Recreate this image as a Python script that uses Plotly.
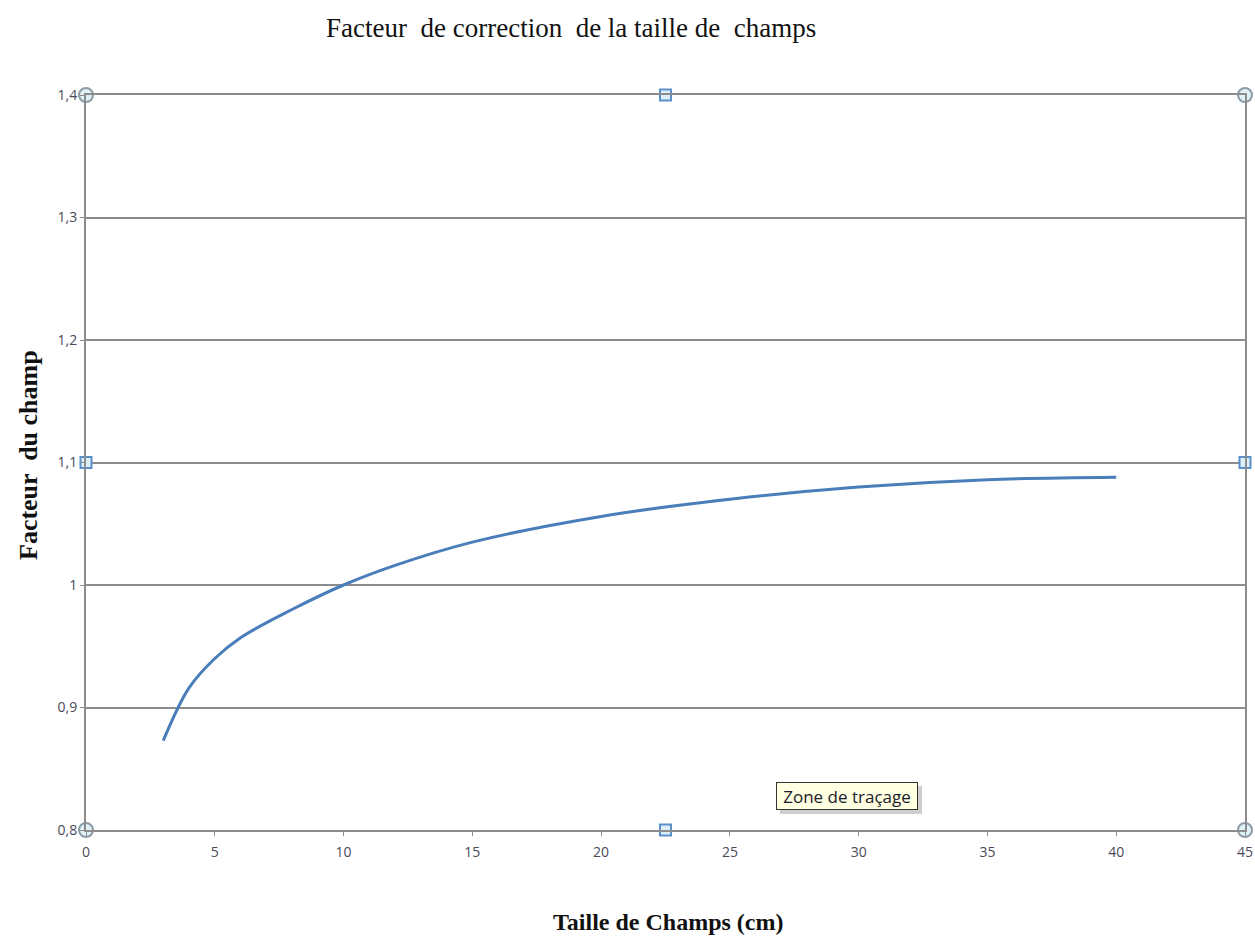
import plotly.graph_objects as go

# Field size (cm) and field correction factor
taille_cm = [3, 4, 5, 6, 8, 10, 12, 15, 20, 25, 30, 35, 40]
facteur = [0.873, 0.916, 0.940, 0.957, 0.980, 1.000, 1.016, 1.035, 1.056, 1.070, 1.080, 1.086, 1.088]

x_ticks = [0, 5, 10, 15, 20, 25, 30, 35, 40, 45]
y_ticks = [0.8, 0.9, 1.0, 1.1, 1.2, 1.3, 1.4]
y_tick_text = ["0,8", "0,9", "1", "1,1", "1,2", "1,3", "1,4"]

W, H = 1255, 937
L, R, T, B = 86, 10, 95, 107
PW, PH = W - L - R, H - T - B


def px_x(p):
    return (p - L) / PW


def px_y(p):
    return (H - B - p) / PH


fig = go.Figure()

fig.add_trace(go.Scatter(
    x=taille_cm, y=facteur, mode="lines",
    line=dict(color="#4a7ebb", width=3, shape="spline", smoothing=1.0),
    hoverinfo="skip", showlegend=False,
))

# selection handles of the plot area
fig.add_trace(go.Scatter(
    x=[0, 45, 0, 45], y=[0.8, 0.8, 1.4, 1.4], mode="markers",
    marker=dict(symbol="circle", size=14, color="#dff3f7",
                line=dict(color="#8e9ba6", width=2)),
    cliponaxis=False, hoverinfo="skip", showlegend=False,
))
fig.add_trace(go.Scatter(
    x=[22.5, 22.5, 0, 45], y=[0.8, 1.4, 1.1, 1.1], mode="markers",
    marker=dict(symbol="square", size=11, color="#dcf0fa",
                line=dict(color="#5b8fc7", width=2)),
    cliponaxis=False, hoverinfo="skip", showlegend=False,
))

tick_font = dict(family="Open Sans", size=14, color="#4a4a5a")

fig.update_layout(
    width=W, height=H,
    margin=dict(l=L, r=R, t=T, b=B, autoexpand=False),
    paper_bgcolor="white", plot_bgcolor="white",
    xaxis=dict(
        range=[0, 45], tickvals=x_ticks, ticktext=[str(v) for v in x_ticks],
        showgrid=False, zeroline=False, automargin=False,
        showline=True, linecolor="#8c8c8c", linewidth=2, mirror=True,
        ticks="outside", ticklen=4, tickcolor="#8c8c8c",
        ticklabelstandoff=4, tickfont=tick_font,
    ),
    yaxis=dict(
        range=[0.8, 1.4], tickvals=y_ticks, ticktext=y_tick_text,
        showgrid=True, gridcolor="#8c8c8c", gridwidth=2, zeroline=False,
        automargin=False,
        showline=True, linecolor="#8c8c8c", linewidth=2, mirror=True,
        ticks="outside", ticklen=4, tickcolor="#8c8c8c",
        tickfont=tick_font,
    ),
    shapes=[
        # tooltip drop shadow
        dict(type="rect", xref="paper", yref="paper",
             x0=px_x(780), x1=px_x(922), y0=px_y(814), y1=px_y(786),
             fillcolor="#b8b8b8", line=dict(width=0), opacity=0.7, layer="above"),
    ],
    annotations=[
        dict(text="Facteur  de correction  de la taille de  champs",
             xref="paper", yref="paper", x=px_x(571), y=px_y(28),
             xanchor="center", yanchor="middle", showarrow=False,
             font=dict(family="Liberation Serif", size=27, color="#111111")),
        dict(text="<b>Taille de Champs (cm)</b>",
             xref="paper", yref="paper", x=px_x(668), y=px_y(922),
             xanchor="center", yanchor="middle", showarrow=False,
             font=dict(family="Liberation Serif", size=24, color="#111111")),
        dict(text="<b>Facteur  du champ</b>", textangle=-90,
             xref="paper", yref="paper", x=px_x(28), y=px_y(455),
             xanchor="center", yanchor="middle", showarrow=False,
             font=dict(family="Liberation Serif", size=26, color="#111111")),
        # tooltip
        dict(text="Zone de traçage",
             xref="paper", yref="paper", x=px_x(847), y=px_y(796),
             xanchor="center", yanchor="middle", showarrow=False,
             width=138, height=24,
             bgcolor="#ffffe1", bordercolor="#333333", borderwidth=1, borderpad=1,
             font=dict(family="Open Sans", size=17, color="#1a1a2a")),
    ],
)

fig.write_html("out.html")
